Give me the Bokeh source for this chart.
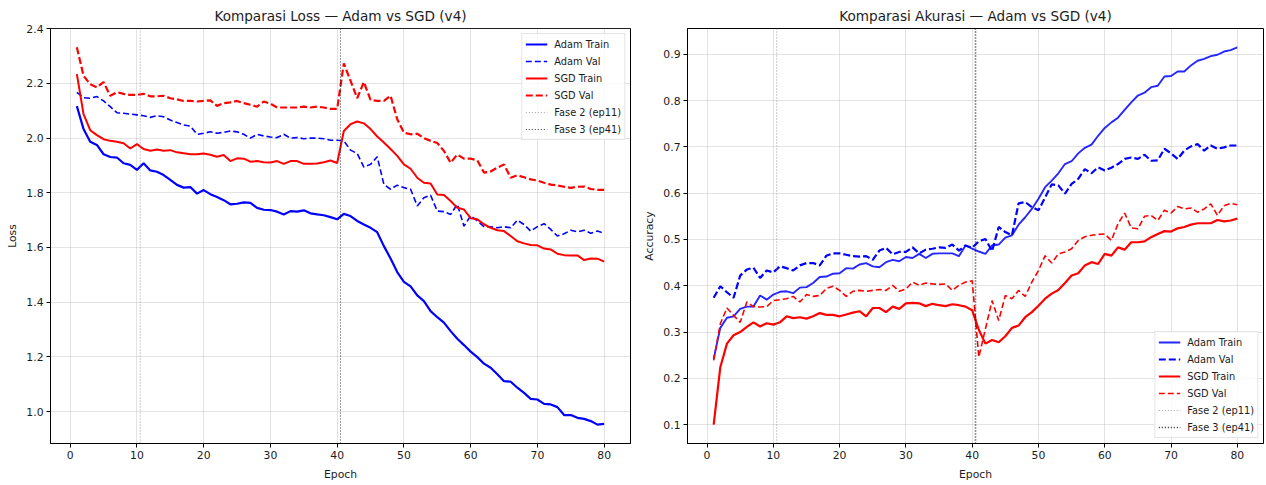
from bokeh.plotting import figure
from bokeh.layouts import row
from bokeh.models import FixedTicker, PrintfTickFormatter, Range1d
from bokeh.embed import file_html
from bokeh.resources import INLINE

epochs = list(range(1, 81))

adam_train_loss = [2.117, 2.033, 1.987, 1.975, 1.941, 1.931, 1.929, 1.908, 1.902, 1.884,
                   1.908, 1.882, 1.877, 1.865, 1.847, 1.829, 1.819, 1.821, 1.797, 1.810,
                   1.795, 1.785, 1.773, 1.758, 1.760, 1.765, 1.763, 1.745, 1.738, 1.737,
                   1.731, 1.721, 1.733, 1.731, 1.736, 1.725, 1.721, 1.718, 1.711, 1.703,
                   1.723, 1.715, 1.697, 1.684, 1.672, 1.656, 1.605, 1.560, 1.510, 1.474,
                   1.458, 1.425, 1.404, 1.367, 1.345, 1.325, 1.294, 1.266, 1.243, 1.219,
                   1.199, 1.175, 1.160, 1.136, 1.111, 1.109, 1.087, 1.068, 1.046, 1.044,
                   1.028, 1.026, 1.016, 0.987, 0.987, 0.977, 0.973, 0.965, 0.952, 0.955]
adam_val_loss = [2.167, 2.148, 2.146, 2.152, 2.136, 2.115, 2.093, 2.091, 2.088, 2.085,
                 2.082, 2.076, 2.082, 2.078, 2.066, 2.057, 2.048, 2.044, 2.014, 2.018,
                 2.023, 2.018, 2.021, 2.026, 2.023, 2.014, 2.000, 2.014, 2.008, 2.004,
                 2.002, 2.014, 2.000, 2.002, 1.998, 2.000, 2.000, 1.998, 1.992, 1.992,
                 1.990, 1.956, 1.944, 1.894, 1.904, 1.932, 1.831, 1.813, 1.828, 1.819,
                 1.813, 1.752, 1.782, 1.791, 1.733, 1.731, 1.721, 1.758, 1.678, 1.716,
                 1.697, 1.676, 1.676, 1.672, 1.676, 1.672, 1.700, 1.684, 1.660, 1.676,
                 1.687, 1.666, 1.642, 1.650, 1.663, 1.657, 1.663, 1.652, 1.660, 1.652]
sgd_train_loss = [2.234, 2.088, 2.029, 2.011, 1.996, 1.990, 1.987, 1.981, 1.962, 1.978,
                  1.960, 1.954, 1.958, 1.954, 1.956, 1.948, 1.945, 1.941, 1.941, 1.944,
                  1.939, 1.932, 1.938, 1.916, 1.926, 1.925, 1.914, 1.916, 1.912, 1.911,
                  1.916, 1.906, 1.916, 1.916, 1.906, 1.906, 1.907, 1.912, 1.918, 1.909,
                  2.026, 2.051, 2.061, 2.054, 2.033, 2.006, 1.984, 1.960, 1.935, 1.904,
                  1.888, 1.855, 1.837, 1.834, 1.794, 1.792, 1.770, 1.745, 1.739, 1.707,
                  1.703, 1.685, 1.672, 1.663, 1.660, 1.642, 1.623, 1.615, 1.609, 1.608,
                  1.596, 1.593, 1.577, 1.572, 1.571, 1.571, 1.554, 1.560, 1.559, 1.548]
sgd_val_loss = [2.332, 2.228, 2.197, 2.186, 2.205, 2.155, 2.168, 2.162, 2.158, 2.158,
                2.162, 2.153, 2.153, 2.155, 2.146, 2.142, 2.136, 2.136, 2.134, 2.136,
                2.138, 2.118, 2.128, 2.131, 2.136, 2.128, 2.122, 2.115, 2.134, 2.126,
                2.112, 2.112, 2.112, 2.112, 2.115, 2.112, 2.115, 2.112, 2.107, 2.107,
                2.273, 2.210, 2.146, 2.205, 2.140, 2.136, 2.136, 2.155, 2.069, 2.020,
                2.014, 2.016, 2.000, 1.990, 1.982, 1.953, 1.910, 1.940, 1.925, 1.925,
                1.919, 1.874, 1.878, 1.892, 1.904, 1.855, 1.864, 1.857, 1.849, 1.845,
                1.837, 1.830, 1.827, 1.822, 1.818, 1.822, 1.823, 1.814, 1.811, 1.811]

adam_train_acc = [0.242, 0.309, 0.331, 0.334, 0.350, 0.355, 0.355, 0.379, 0.370, 0.381,
                  0.387, 0.388, 0.384, 0.396, 0.397, 0.406, 0.419, 0.420, 0.426, 0.427,
                  0.438, 0.437, 0.446, 0.449, 0.442, 0.440, 0.451, 0.456, 0.453, 0.462,
                  0.460, 0.469, 0.460, 0.469, 0.470, 0.470, 0.470, 0.464, 0.487, 0.480,
                  0.474, 0.469, 0.487, 0.489, 0.504, 0.509, 0.532, 0.548, 0.566, 0.588,
                  0.613, 0.627, 0.643, 0.663, 0.669, 0.686, 0.698, 0.705, 0.724, 0.741,
                  0.753, 0.763, 0.780, 0.796, 0.811, 0.817, 0.829, 0.832, 0.852, 0.853,
                  0.863, 0.863, 0.876, 0.886, 0.890, 0.896, 0.899, 0.906, 0.909, 0.915]
adam_val_acc = [0.374, 0.399, 0.386, 0.374, 0.422, 0.435, 0.439, 0.417, 0.433, 0.429,
                0.442, 0.438, 0.433, 0.444, 0.449, 0.449, 0.444, 0.465, 0.470, 0.470,
                0.467, 0.464, 0.463, 0.464, 0.456, 0.476, 0.482, 0.468, 0.473, 0.473,
                0.483, 0.470, 0.478, 0.480, 0.483, 0.482, 0.489, 0.476, 0.487, 0.482,
                0.496, 0.501, 0.475, 0.527, 0.516, 0.509, 0.578, 0.581, 0.570, 0.563,
                0.591, 0.619, 0.617, 0.599, 0.620, 0.631, 0.652, 0.643, 0.656, 0.649,
                0.655, 0.663, 0.674, 0.677, 0.674, 0.683, 0.670, 0.671, 0.696, 0.686,
                0.674, 0.692, 0.701, 0.706, 0.692, 0.703, 0.696, 0.699, 0.703, 0.703]
sgd_train_acc = [0.100, 0.224, 0.275, 0.293, 0.300, 0.311, 0.321, 0.312, 0.319, 0.316,
                 0.321, 0.334, 0.330, 0.332, 0.329, 0.334, 0.341, 0.337, 0.337, 0.334,
                 0.338, 0.342, 0.345, 0.334, 0.352, 0.352, 0.343, 0.355, 0.350, 0.362,
                 0.363, 0.362, 0.356, 0.361, 0.358, 0.356, 0.360, 0.358, 0.355, 0.347,
                 0.305, 0.275, 0.283, 0.278, 0.291, 0.309, 0.314, 0.332, 0.343, 0.357,
                 0.372, 0.383, 0.391, 0.406, 0.422, 0.427, 0.444, 0.451, 0.447, 0.469,
                 0.465, 0.483, 0.478, 0.494, 0.494, 0.496, 0.505, 0.512, 0.518, 0.517,
                 0.524, 0.527, 0.532, 0.535, 0.535, 0.535, 0.542, 0.539, 0.541, 0.545]
sgd_val_acc = [0.239, 0.318, 0.352, 0.336, 0.321, 0.365, 0.355, 0.354, 0.355, 0.368,
               0.370, 0.372, 0.377, 0.365, 0.381, 0.377, 0.379, 0.394, 0.399, 0.390,
               0.377, 0.388, 0.390, 0.388, 0.390, 0.392, 0.390, 0.401, 0.388, 0.393,
               0.408, 0.401, 0.406, 0.404, 0.403, 0.404, 0.390, 0.401, 0.408, 0.411,
               0.246, 0.307, 0.368, 0.325, 0.379, 0.372, 0.390, 0.377, 0.408, 0.433,
               0.465, 0.449, 0.469, 0.473, 0.480, 0.498, 0.506, 0.509, 0.511, 0.512,
               0.498, 0.534, 0.557, 0.525, 0.523, 0.550, 0.552, 0.541, 0.563, 0.557,
               0.571, 0.566, 0.568, 0.559, 0.566, 0.577, 0.552, 0.573, 0.578, 0.575]

phase_starts = [11, 41]
phase_labels = ["Fase 2 (ep11)", "Fase 3 (ep41)"]
x_ticks = [0, 10, 20, 30, 40, 50, 60, 70, 80]
loss_ticks = [1.0, 1.2, 1.4, 1.6, 1.8, 2.0, 2.2, 2.4]
acc_ticks = [0.1, 0.2, 0.3, 0.4, 0.5, 0.6, 0.7, 0.8, 0.9]

FONT = "DejaVu Sans"
TXT = "#1c1c1c"
HEIGHT = 485


def padded(values_lists, frac=0.05):
    lo = min(min(v) for v in values_lists)
    hi = max(max(v) for v in values_lists)
    pad = (hi - lo) * frac
    return lo - pad, hi + pad


def make_fig(title, ylabel, width, bl, br, series, yticks):
    xlo, xhi = padded([epochs])
    ylo, yhi = padded([s[0] for s in series])
    p = figure(width=width, height=HEIGHT, output_backend="svg", toolbar_location=None,
               title=title, x_range=Range1d(xlo, xhi), y_range=Range1d(ylo, yhi),
               min_border_left=bl, min_border_right=br, min_border_top=28,
               min_border_bottom=42)
    p.title.text_font = FONT
    p.title.text_font_size = "13.6px"
    p.title.text_font_style = "normal"
    p.title.text_color = TXT
    p.title.align = "center"
    p.title.standoff = 9
    p.outline_line_color = "black"
    p.outline_line_width = 1
    p.outline_line_alpha = 1
    p.background_fill_color = "white"
    p.border_fill_color = "white"

    p.xaxis.ticker = FixedTicker(ticks=x_ticks)
    p.yaxis.ticker = FixedTicker(ticks=yticks)
    p.yaxis.formatter = PrintfTickFormatter(format="%.1f")
    p.xaxis.axis_label = "Epoch"
    p.yaxis.axis_label = ylabel
    for ax in (p.xaxis[0], p.yaxis[0]):
        ax.axis_line_color = "black"
        ax.axis_line_width = 1
        ax.major_tick_line_color = "black"
        ax.major_tick_out = 4
        ax.major_tick_in = 0
        ax.minor_tick_line_color = None
        ax.major_label_text_font = FONT
        ax.major_label_text_font_size = "10.8px"
        ax.major_label_text_color = TXT
        ax.major_label_standoff = 3
        ax.axis_label_text_font = FONT
        ax.axis_label_text_font_size = "10.8px"
        ax.axis_label_text_font_style = "normal"
        ax.axis_label_text_color = TXT
        ax.axis_label_standoff = 4
    p.xaxis[0].axis_label_standoff = 6
    p.grid.grid_line_color = "#b0b0b0"
    p.grid.grid_line_alpha = 0.35
    p.grid.grid_line_width = 1

    for vals, label, color, width_, dash, alpha in series:
        p.line(epochs, vals, color=color, line_width=width_, line_dash=dash,
               line_alpha=alpha, legend_label=label)
    return p, ylo, yhi


def add_phases(p, ylo, yhi, styles):
    for start, label, (color, lw, alpha) in zip(phase_starts, phase_labels, styles):
        xv = start - 0.5
        p.segment(x0=[xv], y0=[ylo], x1=[xv], y1=[yhi], line_color=color,
                  line_width=lw, line_alpha=alpha, line_dash="1 2", legend_label=label)


def style_legend(p, loc):
    lg = p.legend[0]
    lg.location = loc
    lg.margin = 5
    lg.padding = 3
    lg.spacing = 3
    lg.label_height = 14
    lg.glyph_height = 14
    lg.glyph_width = 22
    lg.label_standoff = 7
    lg.label_text_font = FONT
    lg.label_text_font_size = "9.8px"
    lg.label_text_color = TXT
    lg.border_line_color = "#cccccc"
    lg.border_line_width = 1
    lg.background_fill_color = "white"
    lg.background_fill_alpha = 0.8


loss_series = [
    (adam_train_loss, "Adam Train", "blue", 2.2, "solid", 1.0),
    (adam_val_loss, "Adam Val", "blue", 1.6, "6 3", 1.0),
    (sgd_train_loss, "SGD Train", "red", 2.0, "solid", 1.0),
    (sgd_val_loss, "SGD Val", "red", 2.2, "7 3", 1.0),
]
acc_series = [
    (adam_train_acc, "Adam Train", "blue", 1.9, "solid", 0.85),
    (adam_val_acc, "Adam Val", "blue", 2.2, "7 3", 1.0),
    (sgd_train_acc, "SGD Train", "red", 2.2, "solid", 1.0),
    (sgd_val_acc, "SGD Val", "red", 1.6, "6 3", 1.0),
]

p1, lo1, hi1 = make_fig("Komparasi Loss \u2014 Adam vs SGD (v4)", "Loss", 640, 50, 10,
                        loss_series, loss_ticks)
add_phases(p1, lo1, hi1, [("gray", 1.1, 0.7), ("black", 1.1, 0.8)])
style_legend(p1, "top_right")

p2, lo2, hi2 = make_fig("Komparasi Akurasi \u2014 Adam vs SGD (v4)", "Accuracy", 626, 43, 3,
                        acc_series, acc_ticks)
add_phases(p2, lo2, hi2, [("gray", 1.1, 0.7), ("black", 1.6, 0.85)])
style_legend(p2, "bottom_right")

layout = row(p1, p2)
open("out.html", "w").write(file_html(layout, INLINE))
